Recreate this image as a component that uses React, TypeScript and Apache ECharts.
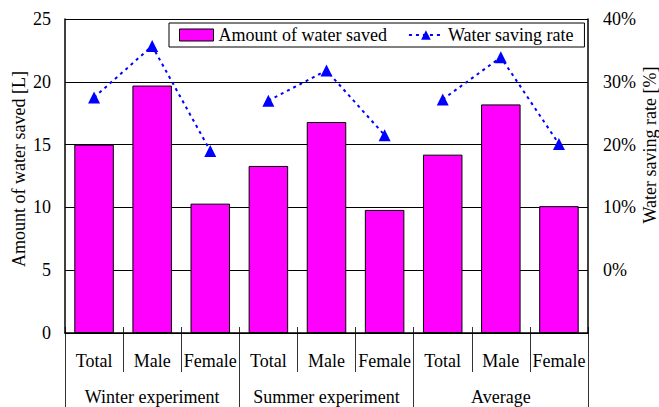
import React, { useEffect, useRef } from "react";
import * as echarts from "echarts";

const categories = ["Total", "Male", "Female", "Total", "Male", "Female", "Total", "Male", "Female"];
const groups = ["Winter experiment", "Summer experiment", "Average"];
const waterSaved = [15.0, 19.7, 10.3, 13.3, 16.8, 9.8, 14.2, 18.2, 10.1];
const savingRate = [27.5, 35.7, 19.0, 27.0, 31.8, 21.5, 27.2, 33.9, 20.1];
const leftTicks = { min: 0, max: 25, interval: 5 };
const rightTicks = { min: -10, max: 40, interval: 10 };

const FONT = "Times New Roman";
const BLACK = "#000";

export default function App() {
  const ref = useRef<HTMLDivElement>(null);
  useEffect(() => {
    if (!ref.current) return;
    const chart = echarts.init(ref.current, undefined, { renderer: "svg" });
    const text = { fontFamily: FONT, fontSize: 18, color: BLACK };
    const lineSeries = groups.map((g, gi) => ({
      name: "Water saving rate",
      type: "line",
      xAxisIndex: 0,
      yAxisIndex: 1,
      data: savingRate.map((v, i) => (Math.floor(i / 3) === gi ? v : null)),
      connectNulls: false,
      symbol: "triangle",
      symbolSize: 12,
      itemStyle: { color: "#0000FF" },
      lineStyle: { color: "#0000FF", width: 2, type: [3, 4] },
      z: 5,
    }));
    const sep = { color: "#333", width: 1 };
    chart.setOption({
      animation: false,
      backgroundColor: "#fff",
      textStyle: text,
      grid: [
        { left: 65, right: 71, top: 19, bottom: 74, containLabel: false, outerBoundsMode: "none" },
        { left: 65, right: 71, top: 327, bottom: 0, containLabel: false, outerBoundsMode: "none" },
        { left: 65, right: 71, top: 327, bottom: 35, containLabel: false, outerBoundsMode: "none" },
      ],
      legend: {
        left: 169,
        top: 23,
        padding: [3, 11, 3, 10],
        itemGap: 21,
        itemWidth: 34,
        itemHeight: 12,
        borderColor: BLACK,
        borderWidth: 1,
        borderRadius: 0,
        backgroundColor: "#fff",
        textStyle: text,
        data: [
          { name: "Amount of water saved", icon: "rect", itemStyle: { color: "#FF00FF", borderColor: BLACK, borderWidth: 1 } },
          { name: "Water saving rate" },
        ],
      },
      xAxis: [
        {
          gridIndex: 0,
          type: "category",
          data: categories,
          position: "bottom",
          axisLine: { show: true, lineStyle: { color: BLACK, width: 1.5 } },
          axisTick: { show: false },
          axisLabel: { ...text, interval: 0, margin: 19 },
          z: 6,
        },
        {
          gridIndex: 1,
          type: "category",
          data: groups,
          position: "top",
          axisLine: { show: false },
          axisTick: { show: false },
          axisLabel: { ...text, interval: 0, inside: true, margin: 61 },
          splitLine: { show: true, interval: 0, lineStyle: sep },
        },
        {
          gridIndex: 2,
          type: "category",
          data: categories,
          position: "top",
          axisLine: { show: false },
          axisTick: { show: false },
          axisLabel: { show: false },
          splitLine: { show: true, interval: 0, lineStyle: sep },
        },
      ],
      yAxis: [
        {
          gridIndex: 0,
          type: "value",
          position: "left",
          ...leftTicks,
          name: "Amount of water saved [L]",
          nameLocation: "middle",
          nameGap: 37,
          nameMoveOverlap: false,
          nameTextStyle: { ...text, padding: [0, 0, 0, 14] },
          axisLine: { show: true, lineStyle: { color: BLACK, width: 1.5 } },
          axisTick: { show: false },
          axisLabel: { ...text, margin: 14 },
          splitLine: { show: true, lineStyle: { color: BLACK, width: 1 } },
        },
        {
          gridIndex: 0,
          type: "value",
          position: "right",
          ...rightTicks,
          name: "Water saving rate [%]",
          nameLocation: "middle",
          nameGap: 53,
          nameMoveOverlap: false,
          nameTextStyle: { ...text, padding: [0, 0, 0, 62] },
          axisLine: { show: true, lineStyle: { color: BLACK, width: 1.5 } },
          axisTick: { show: true, inside: true, length: 8, lineStyle: { color: BLACK } },
          axisLabel: { ...text, margin: 15, formatter: (v: number) => (v < 0 ? "" : v + "%") },
          splitLine: { show: false },
        },
        { gridIndex: 1, type: "value", show: false },
        { gridIndex: 2, type: "value", show: false },
      ],
      series: [
        {
          name: "Amount of water saved",
          type: "bar",
          xAxisIndex: 0,
          yAxisIndex: 0,
          data: waterSaved,
          barWidth: "68%",
          itemStyle: { color: "#FF00FF", borderColor: BLACK, borderWidth: 1 },
          z: 3,
        },
        ...lineSeries,
      ],
    });
    return () => chart.dispose();
  }, []);
  return <div ref={ref} style={{ position: "fixed", left: 0, top: 0, width: 659, height: 407 }} />;
}
